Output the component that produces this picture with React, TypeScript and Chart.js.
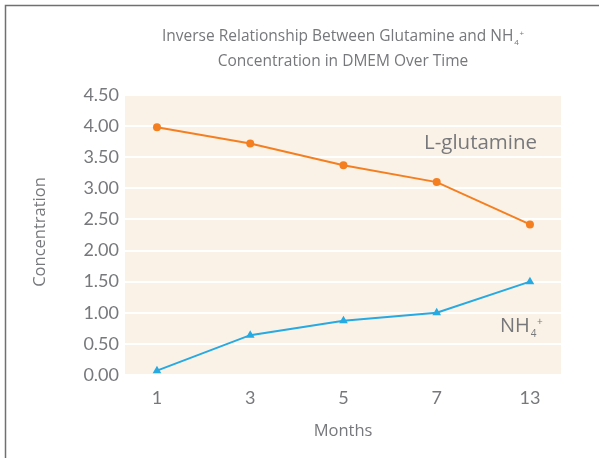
import React, { useEffect, useRef } from "react";
import { Chart, registerables } from "chart.js";

Chart.register(...registerables);

const months = ["1", "3", "5", "7", "13"];
const glutamine = [3.98, 3.72, 3.37, 3.1, 2.42];
const ammonium = [0.07, 0.64, 0.87, 1.0, 1.5];
const yTicks = [0, 0.5, 1, 1.5, 2, 2.5, 3, 3.5, 4, 4.5];

const FONT = "Lato, 'Open Sans', sans-serif";
const FONT2 = "'Open Sans', Lato, sans-serif";
const TEXT = "#77787b";
const ORANGE = "#f47f20";
const BLUE = "#27a9e1";
const BEIGE = "#fbf2e7";

function drawNH4(ctx: CanvasRenderingContext2D, x: number, y: number, size: number) {
  ctx.textAlign = "left";
  ctx.textBaseline = "alphabetic";
  ctx.font = `${size}px ${FONT2}`;
  ctx.fillText("NH", x, y);
  const w = ctx.measureText("NH").width;
  const small = Math.round(size * 0.5);
  ctx.font = `${small}px ${FONT2}`;
  ctx.fillText("4", x + w + 1, y + size * 0.25);
  const w4 = ctx.measureText("4").width;
  ctx.fillText("+", x + w + 1 + w4 + 0.5, y - size * 0.35);
}

function nh4Width(ctx: CanvasRenderingContext2D, size: number) {
  ctx.font = `${size}px ${FONT2}`;
  const w = ctx.measureText("NH").width;
  ctx.font = `${Math.round(size * 0.5)}px ${FONT2}`;
  return w + 1.5 + ctx.measureText("4").width + ctx.measureText("+").width;
}

const decorPlugin = {
  id: "decor",
  beforeDraw(chart: any) {
    const { ctx, chartArea, width, height } = chart;
    ctx.save();
    ctx.fillStyle = "#ffffff";
    ctx.fillRect(0, 0, width, height);
    ctx.strokeStyle = "#707070";
    ctx.lineWidth = 1.5;
    ctx.beginPath();
    ctx.moveTo(5.5, height);
    ctx.lineTo(5.5, 5.5);
    ctx.lineTo(width, 5.5);
    ctx.stroke();
    ctx.fillStyle = BEIGE;
    ctx.fillRect(chartArea.left, chartArea.top, chartArea.right - chartArea.left, chartArea.bottom - chartArea.top);
    ctx.restore();
  },
  afterDraw(chart: any) {
    const { ctx, chartArea } = chart;
    const cx = (chartArea.left + chartArea.right) / 2;
    ctx.save();
    ctx.fillStyle = TEXT;
    // Title line 1
    const tSize = 15.5;
    const line1 = "Inverse Relationship Between Glutamine and ";
    ctx.font = `${tSize}px ${FONT2}`;
    const l1w = ctx.measureText(line1).width;
    const w1 = l1w + nh4Width(ctx, tSize);
    const x1 = cx - w1 / 2;
    ctx.font = `${tSize}px ${FONT2}`;
    ctx.textAlign = "left";
    ctx.textBaseline = "alphabetic";
    ctx.fillText(line1, x1, 41);
    drawNH4(ctx, x1 + l1w, 41, tSize);
    // Title line 2
    ctx.font = `${tSize}px ${FONT2}`;
    ctx.textAlign = "center";
    ctx.textBaseline = "alphabetic";
    ctx.fillText("Concentration in DMEM Over Time", cx, 66);

    // Axis titles
    ctx.font = `16.5px ${FONT2}`;
    ctx.textAlign = "center";
    ctx.textBaseline = "middle";
    ctx.fillText("Months", cx, 431);
    ctx.save();
    ctx.translate(40, (chartArea.top + chartArea.bottom) / 2 - 3);
    ctx.rotate(-Math.PI / 2);
    ctx.fillText("Concentration", 0, 0);
    ctx.restore();

    // Series annotations
    ctx.font = `20.5px ${FONT2}`;
    ctx.textAlign = "left";
    ctx.textBaseline = "alphabetic";
    ctx.fillText("L-glutamine", 424, 149);
    drawNH4(ctx, 500, 332, 20);
    ctx.restore();
  },
};

export default function App() {
  const ref = useRef<HTMLCanvasElement | null>(null);
  useEffect(() => {
    document.body.style.margin = "0";
    const canvas = ref.current!;
    const chart = new Chart(canvas, {
      type: "line",
      data: {
        datasets: [
          {
            label: "L-glutamine",
            data: glutamine.map((v, i) => ({ x: i, y: v })),
            borderColor: ORANGE,
            backgroundColor: ORANGE,
            borderWidth: 2,
            pointStyle: "circle",
            pointRadius: 4,
            pointBorderWidth: 0,
            pointHoverRadius: 4,
            tension: 0,
          },
          {
            label: "NH4+",
            data: ammonium.map((v, i) => ({ x: i, y: v })),
            borderColor: BLUE,
            backgroundColor: BLUE,
            borderWidth: 2,
            pointStyle: "triangle",
            pointRadius: 5,
            pointBorderWidth: 0,
            pointHoverRadius: 5,
            tension: 0,
          },
        ],
      },
      options: {
        responsive: false,
        maintainAspectRatio: false,
        animation: false,
        layout: { padding: { top: 95, right: 38, left: 0, bottom: 0 } },
        plugins: {
          legend: { display: false },
          title: { display: false },
          tooltip: { enabled: false },
        },
        scales: {
          x: {
            type: "linear",
            min: -0.343,
            max: 4.333,
            afterFit: (s: any) => {
              s.height = 83;
            },
            grid: { display: false, drawTicks: false },
            border: { display: false },
            ticks: {
              stepSize: 1,
              includeBounds: false,
              padding: 12,
              color: TEXT,
              font: { family: FONT, size: 18 },
              callback: (v: any) => (Number.isInteger(v) && months[v] !== undefined ? months[v] : ""),
            },
          },
          y: {
            type: "linear",
            min: 0,
            max: 4.5,
            afterFit: (s: any) => {
              s.width = 125;
            },
            afterBuildTicks: (s: any) => {
              s.ticks = yTicks.map((v) => ({ value: v }));
            },
            grid: { color: "#ffffff", lineWidth: 2, drawTicks: false },
            border: { display: false },
            ticks: {
              padding: 6,
              color: TEXT,
              font: { family: FONT, size: 18 },
              callback: (v: any) => Number(v).toFixed(2),
            },
          },
        },
      },
      plugins: [decorPlugin],
    });
    return () => chart.destroy();
  }, []);
  return <canvas ref={ref} width={599} height={458} style={{ display: "block" }} />;
}
